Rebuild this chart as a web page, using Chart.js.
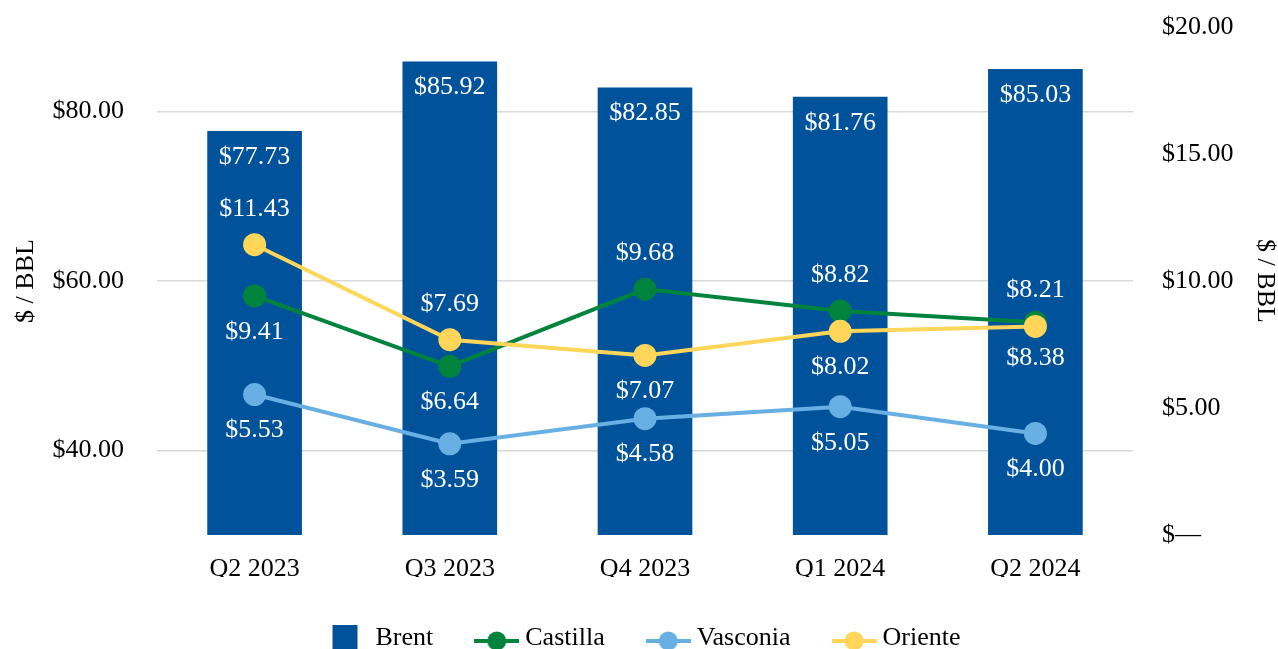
<!DOCTYPE html>
<html>
<head>
<meta charset="utf-8">
<script src="https://cdn.jsdelivr.net/npm/chart.js@4"></script>
<style>
  html, body { margin: 0; padding: 0; background: #fff; }
  #wrap { width: 1278px; height: 649px; }
</style>
</head>
<body>
<div id="wrap"><canvas id="priceChart"></canvas></div>
<script>
// Data
const quarters = ["Q2 2023", "Q3 2023", "Q4 2023", "Q1 2024", "Q2 2024"];
const brent = [77.73, 85.92, 82.85, 81.76, 85.03];
const castilla = [9.41, 6.64, 9.68, 8.82, 8.38];
const vasconia = [5.53, 3.59, 4.58, 5.05, 4.0];
const oriente = [11.43, 7.69, 7.07, 8.02, 8.21];
const leftTicks = [40, 60, 80];
const rightTicks = [0, 5, 10, 15, 20];

// which side of the point each line label sits on
const castillaLabelSide = ["below", "below", "above", "above", "below"];
const vasconiaLabelSide = ["below", "below", "below", "below", "below"];
const orienteLabelSide = ["above", "above", "below", "below", "above"];

const COLORS = {
  brent: "#00529B",
  castilla: "#00843D",
  vasconia: "#68B0E3",
  oriente: "#FFD65A",
};

const FONT_FAMILY = "'Liberation Serif', 'Times New Roman', serif";
const baseFont = { family: FONT_FAMILY, size: 26 };

function makeSquareIcon(color) {
  const c = document.createElement("canvas");
  c.width = 45;
  c.height = 26;
  const g = c.getContext("2d");
  g.fillStyle = color;
  g.fillRect(8, 0, 25, 25);
  return c;
}

function makeLineIcon(color) {
  const c = document.createElement("canvas");
  c.width = 45;
  c.height = 28;
  const g = c.getContext("2d");
  g.strokeStyle = color;
  g.lineWidth = 4;
  g.beginPath();
  g.moveTo(0, 17);
  g.lineTo(45, 17);
  g.stroke();
  g.fillStyle = color;
  g.beginPath();
  g.arc(22.5, 17, 9.5, 0, Math.PI * 2);
  g.fill();
  return c;
}

const legendIcons = [
  makeSquareIcon(COLORS.brent),
  makeLineIcon(COLORS.castilla),
  makeLineIcon(COLORS.vasconia),
  makeLineIcon(COLORS.oriente),
];

const fmt = (v) => "$" + v.toFixed(2);

// Draws the value labels next to bars and points
const valueLabels = {
  id: "valueLabels",
  afterDatasetsDraw(chart) {
    const ctx = chart.ctx;
    ctx.save();
    ctx.font = "26px " + FONT_FAMILY;
    ctx.fillStyle = "#ffffff";
    ctx.textAlign = "center";
    ctx.textBaseline = "middle";
    chart.data.datasets.forEach((ds, i) => {
      const meta = chart.getDatasetMeta(i);
      meta.data.forEach((el, j) => {
        let y;
        if (ds.type === "bar") {
          y = el.y + 26;
        } else {
          y = el.y + (ds.labelSide[j] === "above" ? -36 : 36);
        }
        ctx.fillText(fmt(ds.data[j]), el.x, y);
      });
    });
    ctx.restore();
  },
};

// nudge the legend a little to the right, like the reference
const legendShift = {
  id: "legendShift",
  afterLayout(chart) {
    if (chart.legend) {
      chart.legend.left += 7;
      chart.legend.right += 7;
    }
  },
};

function lineDataset(label, data, color, side, order) {
  return {
    type: "line",
    label: label,
    data: data,
    yAxisID: "y1",
    borderColor: color,
    backgroundColor: color,
    borderWidth: 4,
    pointRadius: 11.5,
    pointHoverRadius: 11.5,
    pointBorderWidth: 0,
    pointBackgroundColor: color,
    tension: 0,
    labelSide: side,
    order: order,
  };
}

// keep tick padding from pushing the plot area down
function trimVerticalPadding(scale) {
  scale.paddingTop = 15;
  scale.paddingBottom = 15;
}

const ctx = document.getElementById("priceChart").getContext("2d");

new Chart(ctx, {
  data: {
    labels: quarters,
    datasets: [
      {
        type: "bar",
        label: "Brent",
        data: brent,
        yAxisID: "y",
        backgroundColor: COLORS.brent,
        borderWidth: 0,
        barPercentage: 0.485,
        categoryPercentage: 1,
        order: 3,
      },
      lineDataset("Castilla", castilla, COLORS.castilla, castillaLabelSide, 2),
      lineDataset("Vasconia", vasconia, COLORS.vasconia, vasconiaLabelSide, 1),
      lineDataset("Oriente", oriente, COLORS.oriente, orienteLabelSide, 0),
    ],
  },
  options: {
    responsive: true,
    maintainAspectRatio: false,
    animation: false,
    layout: {
      padding: { top: 27, left: 0, right: 0, bottom: -12 },
    },
    plugins: {
      tooltip: { enabled: false },
      legend: {
        position: "bottom",
        labels: {
          font: baseFont,
          color: "#000",
          usePointStyle: true,
          pointStyleWidth: 31,
          padding: 48,
          sort: (a, b) => a.datasetIndex - b.datasetIndex,
          generateLabels: (chart) => {
            const items = Chart.defaults.plugins.legend.labels.generateLabels(chart);
            items.forEach((item) => {
              item.pointStyle = legendIcons[item.datasetIndex];
            });
            return items;
          },
        },
      },
    },
    scales: {
      x: {
        grid: { display: false, drawTicks: false },
        border: { display: false },
        ticks: { font: baseFont, color: "#000", padding: 19 },
        afterFit: (scale) => {
          scale.height = 42;
        },
      },
      y: {
        position: "left",
        min: 30,
        max: 90,
        afterBuildTicks: (scale) => {
          scale.ticks = leftTicks.map((v) => ({ value: v }));
        },
        grid: { color: "#d9d9d9", lineWidth: 1.5, drawTicks: false },
        border: { display: false },
        ticks: {
          font: baseFont,
          color: "#000",
          padding: 33,
          callback: (v) => fmt(v),
        },
        title: {
          display: true,
          text: "$ / BBL",
          color: "#000",
          font: { family: FONT_FAMILY, size: 26, lineHeight: 1 },
          padding: { top: 13, bottom: 0 },
        },
        afterFit: (scale) => {
          scale.width = 157;
          trimVerticalPadding(scale);
        },
      },
      y1: {
        position: "right",
        min: 0,
        max: 20,
        afterBuildTicks: (scale) => {
          scale.ticks = rightTicks.map((v) => ({ value: v }));
        },
        grid: { display: false, drawTicks: false },
        border: { display: false },
        ticks: {
          font: baseFont,
          color: "#000",
          padding: 29,
          callback: (v) => (v === 0 ? "$\u2014" : fmt(v)),
        },
        title: {
          display: true,
          text: "$ / BBL",
          color: "#000",
          font: { family: FONT_FAMILY, size: 26, lineHeight: 1 },
          padding: { top: 0, bottom: 0 },
        },
        afterFit: (scale) => {
          scale.width = 145;
          trimVerticalPadding(scale);
        },
      },
    },
  },
  plugins: [valueLabels, legendShift],
});
</script>
</body>
</html>
